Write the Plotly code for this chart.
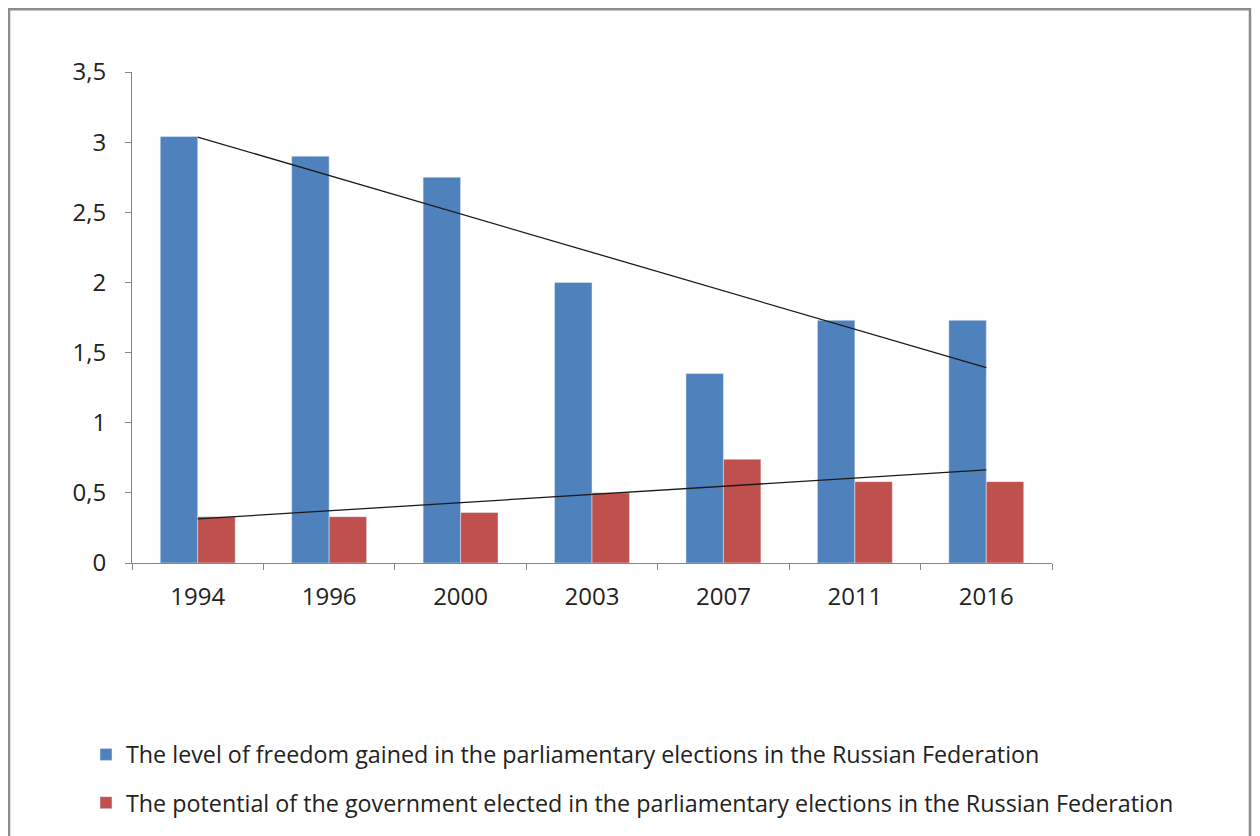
import numpy as np
import plotly.graph_objects as go

years = ["1994", "1996", "2000", "2003", "2007", "2011", "2016"]
freedom = [3.04, 2.90, 2.75, 2.00, 1.35, 1.73, 1.73]
potential = [0.33, 0.33, 0.36, 0.50, 0.74, 0.58, 0.58]
name_freedom = "The level of freedom gained in the parliamentary elections in the Russian Federation"
name_potential = "The potential of the government elected in the parliamentary elections in the Russian Federation"

FONT = "Open Sans"
BLUE = "#4F81BD"
RED = "#C0504D"
AXIS = "#868686"

idx = np.arange(1, len(years) + 1)
trend_f = np.polyval(np.polyfit(idx, freedom, 1), idx)
trend_p = np.polyval(np.polyfit(idx, potential, 1), idx)

fig = go.Figure()
fig.add_trace(go.Bar(x=years, y=freedom, name=name_freedom, marker_color=BLUE,
                     legendgroup="a"))
fig.add_trace(go.Bar(x=years, y=potential, name=name_potential, marker_color=RED,
                     legendgroup="b"))
fig.add_trace(go.Scatter(x=years, y=trend_f, mode="lines", showlegend=False,
                         line=dict(color="#1a1a1a", width=1.3), hoverinfo="skip"))
fig.add_trace(go.Scatter(x=years, y=trend_p, mode="lines", showlegend=False,
                         line=dict(color="#1a1a1a", width=1.3), hoverinfo="skip"))

fig.update_layout(
    width=1252, height=828,
    paper_bgcolor="white", plot_bgcolor="white",
    separators=", ",
    barmode="group", bargap=0.43, bargroupgap=0,
    margin=dict(l=124, r=208, t=64, b=272),
    font=dict(family=FONT, size=24, color="#222222"),
    legend=dict(x=-0.05, y=-0.343, xanchor="left", yanchor="top",
                traceorder="grouped", tracegroupgap=15, itemwidth=30,
                font=dict(family=FONT, size=23.3, color="#222222"),
                bgcolor="rgba(0,0,0,0)"),
    xaxis=dict(showline=True, linecolor=AXIS, linewidth=1, ticks="outside",
               tickson="boundaries", ticklen=6, tickcolor=AXIS, showgrid=False,
               tickfont=dict(size=24), ticklabelstandoff=12),
    yaxis=dict(range=[0, 3.5], dtick=0.5, showline=True, linecolor=AXIS, linewidth=1,
               ticks="outside", ticklen=6, tickcolor=AXIS, showgrid=False,
               zeroline=False, tickfont=dict(size=24), ticklabelstandoff=14),
    shapes=[dict(type="rect", xref="paper", yref="paper", layer="below",
                 x0=-0.1337, x1=1.2152, y0=-0.7, y1=1 + 63 / 492,
                 line=dict(color="#8c8c8c", width=2.5))],
)

fig.write_html("out.html")
